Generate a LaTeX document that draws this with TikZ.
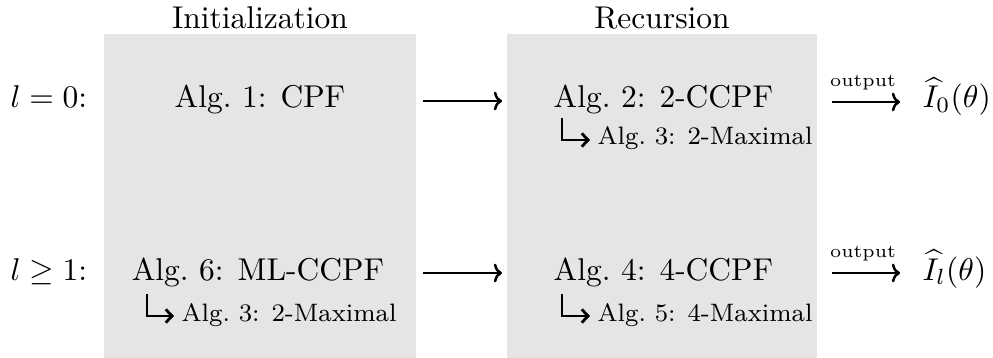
\documentclass[tikz,border=0pt]{standalone}
\usetikzlibrary{arrows.meta}
\begin{document}
\begin{tikzpicture}[x=0.3175pt,y=-0.3175pt,
  panel/.style={fill=gray!20, draw=none},
  txt/.style={inner sep=0pt, font=\fontsize{10}{12}\selectfont},
  subtxt/.style={inner sep=0pt, font=\fontsize{8}{10}\selectfont, anchor=base west},
  flow/.style={line width=0.4pt, -{Computer Modern Rightarrow[length=2.6pt,width=6pt,line width=0.8pt]}},
  hookarrow/.style={line width=0.45pt, -{Straight Barb[length=2pt,width=4.2pt,line width=0.9pt]}},
  outlbl/.style={inner sep=0pt, font=\fontsize{5.8}{7}\selectfont, anchor=base}
]
\useasboundingbox (0,0) rectangle (993,358);

% shaded panels
\path[panel] (104,34) rectangle (416,358);
\path[panel] (507,34) rectangle (817,358);

% column titles
\node[txt, anchor=base] (tinit) at (260,29) {Initialization};
\node[txt, anchor=base] (trec) at (662,29) {Recursion};

% level labels
\node[txt, anchor=base west] (lzero) at (10,108) {$l=0$:};
\node[txt, anchor=base west] (lone) at (10,280) {$l\geq 1$:};

% algorithms, level 0
\node[txt, anchor=base] (a1) at (260,108) {Alg.~1: CPF};
\node[txt, anchor=base west] (a2) at (553,108) {Alg.~2: 2-CCPF};
\node[subtxt] (a3) at (597,145) {Alg.~3: 2-Maximal};

% algorithms, level >= 1
\node[txt, anchor=base] (a6) at (258,280) {Alg.~6: ML-CCPF};
\node[subtxt] (a3b) at (181,321) {Alg.~3: 2-Maximal};
\node[txt, anchor=base west] (a4) at (553,280) {Alg.~4: 4-CCPF};
\node[subtxt] (a5) at (597,321) {Alg.~5: 4-Maximal};

% outputs
\node[txt, anchor=base west] (o0) at (922,108) {$\widehat{I}_0(\theta)$};
\node[txt, anchor=base west] (ol) at (922,280) {$\widehat{I}_l(\theta)$};

% arrow end points
\coordinate (r0s) at (423,101);
\coordinate (r0e) at (502,101);
\coordinate (r1s) at (423,273);
\coordinate (r1e) at (502,273);
\coordinate (o0s) at (832,102);
\coordinate (o0e) at (900,102);
\coordinate (o1s) at (832,273);
\coordinate (o1e) at (900,273);

\draw[flow] (r0s) -- (r0e);
\draw[flow] (r1s) -- (r1e);
\draw[flow] (o0s) -- (o0e);
\draw[flow] (o1s) -- (o1e);
\node[outlbl] (out0) at (863,87) {output};
\node[outlbl] (out1) at (863,258) {output};

% sub-call hooks
\draw[hookarrow] ([shift={(-35,-27)}]a3.base west) |- ([shift={(-7,-5)}]a3.base west);
\draw[hookarrow] ([shift={(-34,-27)}]a3b.base west) |- ([shift={(-7,-5)}]a3b.base west);
\draw[hookarrow] ([shift={(-35,-27)}]a5.base west) |- ([shift={(-7,-5)}]a5.base west);
\end{tikzpicture}
\end{document}
